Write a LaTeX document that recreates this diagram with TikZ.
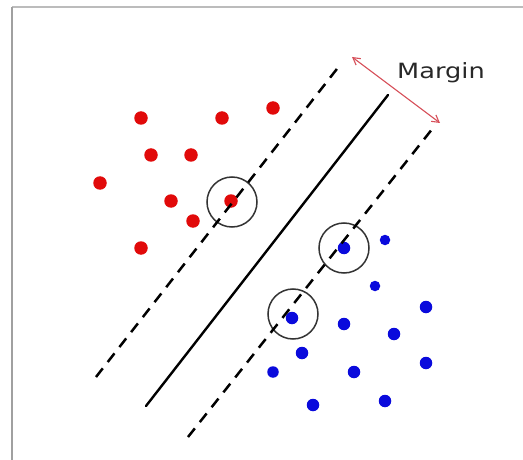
\documentclass[tikz,border=0pt]{standalone}
\usepackage{fontspec}
\newfontfamily\labelfont{DejaVu Sans}
\usetikzlibrary{arrows.meta}
\definecolor{dotred}{RGB}{225,10,10}
\definecolor{dotblue}{RGB}{10,10,220}
\definecolor{margincol}{RGB}{215,80,90}
\definecolor{framegray}{RGB}{160,160,160}
\definecolor{textgray}{RGB}{40,40,40}
\begin{document}
\begin{tikzpicture}[x=1pt,y=-1pt,
  reddot/.style={circle,fill=dotred,inner sep=0pt,minimum size=13.5pt},
  bluedot/.style={circle,fill=dotblue,inner sep=0pt,minimum size=12.5pt},
  svring/.style={circle,draw=black!80,line width=1.5pt,inner sep=0pt,minimum size=50pt},
  hyper/.style={line width=2.4pt,line cap=round},
  marginline/.style={line width=2.5pt,dash pattern=on 11pt off 8pt},
  marginarrow/.style={draw=margincol,line width=1.1pt,{Straight Barb[length=7pt,width=8pt]}-{Straight Barb[length=7pt,width=8pt]}},
  lbl/.style={font=\labelfont\fontsize{21}{24}\selectfont,text=textgray,inner sep=0pt,xscale=1.22}
]
\useasboundingbox (0,0) rectangle (523,460);
\fill[white] (0,0) rectangle (523,460);
% frame
\draw[framegray!70,line width=2pt] (12,7) -- (523,7);
\draw[framegray,line width=2.5pt] (12,7) -- (12,460);

% red points
\node[reddot] (r1) at (141,118) {};
\node[reddot] (r2) at (222,118) {};
\node[reddot] (r3) at (273,108) {};
\node[reddot] (r4) at (151,155) {};
\node[reddot] (r5) at (191,155) {};
\node[reddot] (r6) at (100,183) {};
\node[reddot] (r7) at (171,201) {};
\node[reddot] (r8) at (231,201) {};
\node[reddot] (r9) at (193,221) {};
\node[reddot] (r10) at (141,248) {};

% blue points
\node[bluedot] (b1) at (344,248) {};
\node[bluedot,minimum size=10.5pt] (b2) at (385,240) {};
\node[bluedot,minimum size=10.5pt] (b3) at (375,286) {};
\node[bluedot] (b4) at (292,318) {};
\node[bluedot] (b5) at (344,324) {};
\node[bluedot] (b6) at (426,307) {};
\node[bluedot] (b7) at (394,334) {};
\node[bluedot] (b8) at (302,353) {};
\node[bluedot,minimum size=11.5pt] (b9) at (273,372) {};
\node[bluedot] (b10) at (354,372) {};
\node[bluedot] (b11) at (426,363) {};
\node[bluedot] (b12) at (313,405) {};
\node[bluedot] (b13) at (385,401) {};

% support vector rings
\node[svring] (s1) at (232,202) {};
\node[svring] (s2) at (344,248) {};
\node[svring] (s3) at (293,314) {};

% lines
\coordinate (ua) at (96,377);
\coordinate (ub) at (340,65);
\coordinate (ha) at (146,406);
\coordinate (hb) at (388,95);
\coordinate (la) at (188,437);
\coordinate (lb) at (433,128);
\draw[marginline] (ua) -- (ub);
\draw[hyper] (ha) -- (hb);
\draw[marginline] (la) -- (lb);

% margin arrow
\coordinate (ma) at (352,57);
\coordinate (mb) at (440,123);
\draw[marginarrow] (ma) -- (mb);
\node[lbl] (mlabel) at (441,73) {Margin};
\end{tikzpicture}
\end{document}
